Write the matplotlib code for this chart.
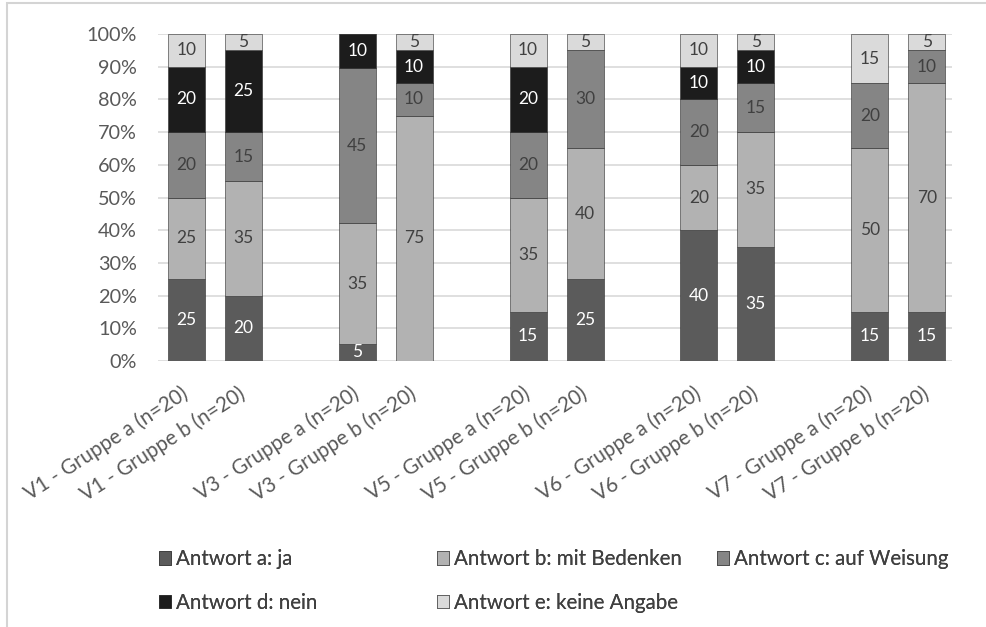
import matplotlib
matplotlib.use("Agg")
from matplotlib import pyplot as plt
from matplotlib.ticker import PercentFormatter
import numpy as np

plt.rcParams['font.family'] = ['Lato', 'DejaVu Sans']

# Daten: Antworten je Gruppe (Prozent, n=20); '' = Lücke zwischen den Vignetten
bars = ['V1 - Gruppe a (n=20)', 'V1 - Gruppe b (n=20)', '',
        'V3 - Gruppe a (n=20)', 'V3 - Gruppe b (n=20)', '',
        'V5 - Gruppe a (n=20)', 'V5 - Gruppe b (n=20)', '',
        'V6 - Gruppe a (n=20)', 'V6 - Gruppe b (n=20)', '',
        'V7 - Gruppe a (n=20)', 'V7 - Gruppe b (n=20)']
ja       = [25, 20, 0, 5, 0, 0, 15, 25, 0, 40, 35, 0, 15, 15]
bedenken = [25, 35, 0, 35, 75, 0, 35, 40, 0, 20, 35, 0, 50, 70]
weisung  = [20, 15, 0, 45, 10, 0, 20, 30, 0, 20, 15, 0, 20, 10]
nein     = [20, 25, 0, 10, 10, 0, 20, 0, 0, 10, 10, 0, 0, 0]
keine    = [10, 5, 0, 0, 5, 0, 10, 5, 0, 10, 5, 0, 15, 5]

series = [
    ('Antwort a: ja', ja, '#5b5b5b', 'white'),
    ('Antwort b: mit Bedenken', bedenken, '#b2b2b2', '#404040'),
    ('Antwort c: auf Weisung', weisung, '#858585', '#404040'),
    ('Antwort d: nein', nein, '#1c1c1c', 'white'),
    ('Antwort e: keine Angabe', keine, '#dadada', '#404040'),
]

raw = np.array([s[1] for s in series], dtype=float)
tot = raw.sum(axis=0)
tot[tot == 0] = 1
share = raw / tot

fig = plt.figure(figsize=(9.86, 6.27), dpi=100)
ax = fig.add_axes([0.160, 0.4242, 0.806, 0.5216])

# Rahmen wie im Original
fig.patches.append(plt.Rectangle((0.007, -0.1), 1.2, 1.095, transform=fig.transFigure,
                                 fill=False, edgecolor='#d4d4d4', lw=1.5))

x = np.arange(len(bars))
bottom = np.zeros(len(bars))
handles = []
for i, (name, vals, col, tcol) in enumerate(series):
    h = ax.bar(x, share[i], 0.65, bottom=bottom, color=col, label=name,
               edgecolor='#2a2a2a', linewidth=0.4, zorder=3)
    handles.append(h)
    for xi, v, s, b in zip(x, vals, share[i], bottom):
        if v > 0:
            ax.text(xi, b + s / 2, str(v), ha='center', va='center',
                    fontsize=12.5, color=tcol, zorder=4)
    bottom += share[i]

ax.set_xlim(-0.5, 13.45)
ax.set_ylim(0, 1)
ax.set_yticks(np.arange(0, 1.01, 0.1))
ax.yaxis.set_major_formatter(PercentFormatter(1.0, decimals=0))
ax.set_xticks(x)
ax.set_xticklabels(bars, rotation=33, ha='right', va='center', rotation_mode='anchor')
for lbl in ax.get_xticklabels():
    lbl.set_x(lbl.get_position()[0])
ax.tick_params(axis='both', length=0, colors='#595959')
ax.tick_params(axis='x', pad=22, labelsize=14.8)
ax.tick_params(axis='y', pad=15, labelsize=14.3)
ax.grid(axis='y', color='#d9d9d9', lw=1.2, zorder=0)
for sp in ax.spines.values():
    sp.set_visible(False)

# Legende: drei Spalten mit festen Abständen
cols = [[0, 3], [1, 4], [2]]
col_x = [0.161, 0.443, 0.727]
for cx, idx in zip(col_x, cols):
    lg = fig.legend([handles[i] for i in idx], [series[i][0] for i in idx],
                    loc='upper left', bbox_to_anchor=(cx, 0.124),
                    frameon=False, fontsize=14.8, handlelength=0.6,
                    handleheight=0.6, handletextpad=0.25,
                    labelspacing=1.15, borderaxespad=0, borderpad=0)
    for t in lg.get_texts():
        t.set_color('#404040')
    fig.add_artist(lg)

fig.savefig('out.png', dpi=100)
